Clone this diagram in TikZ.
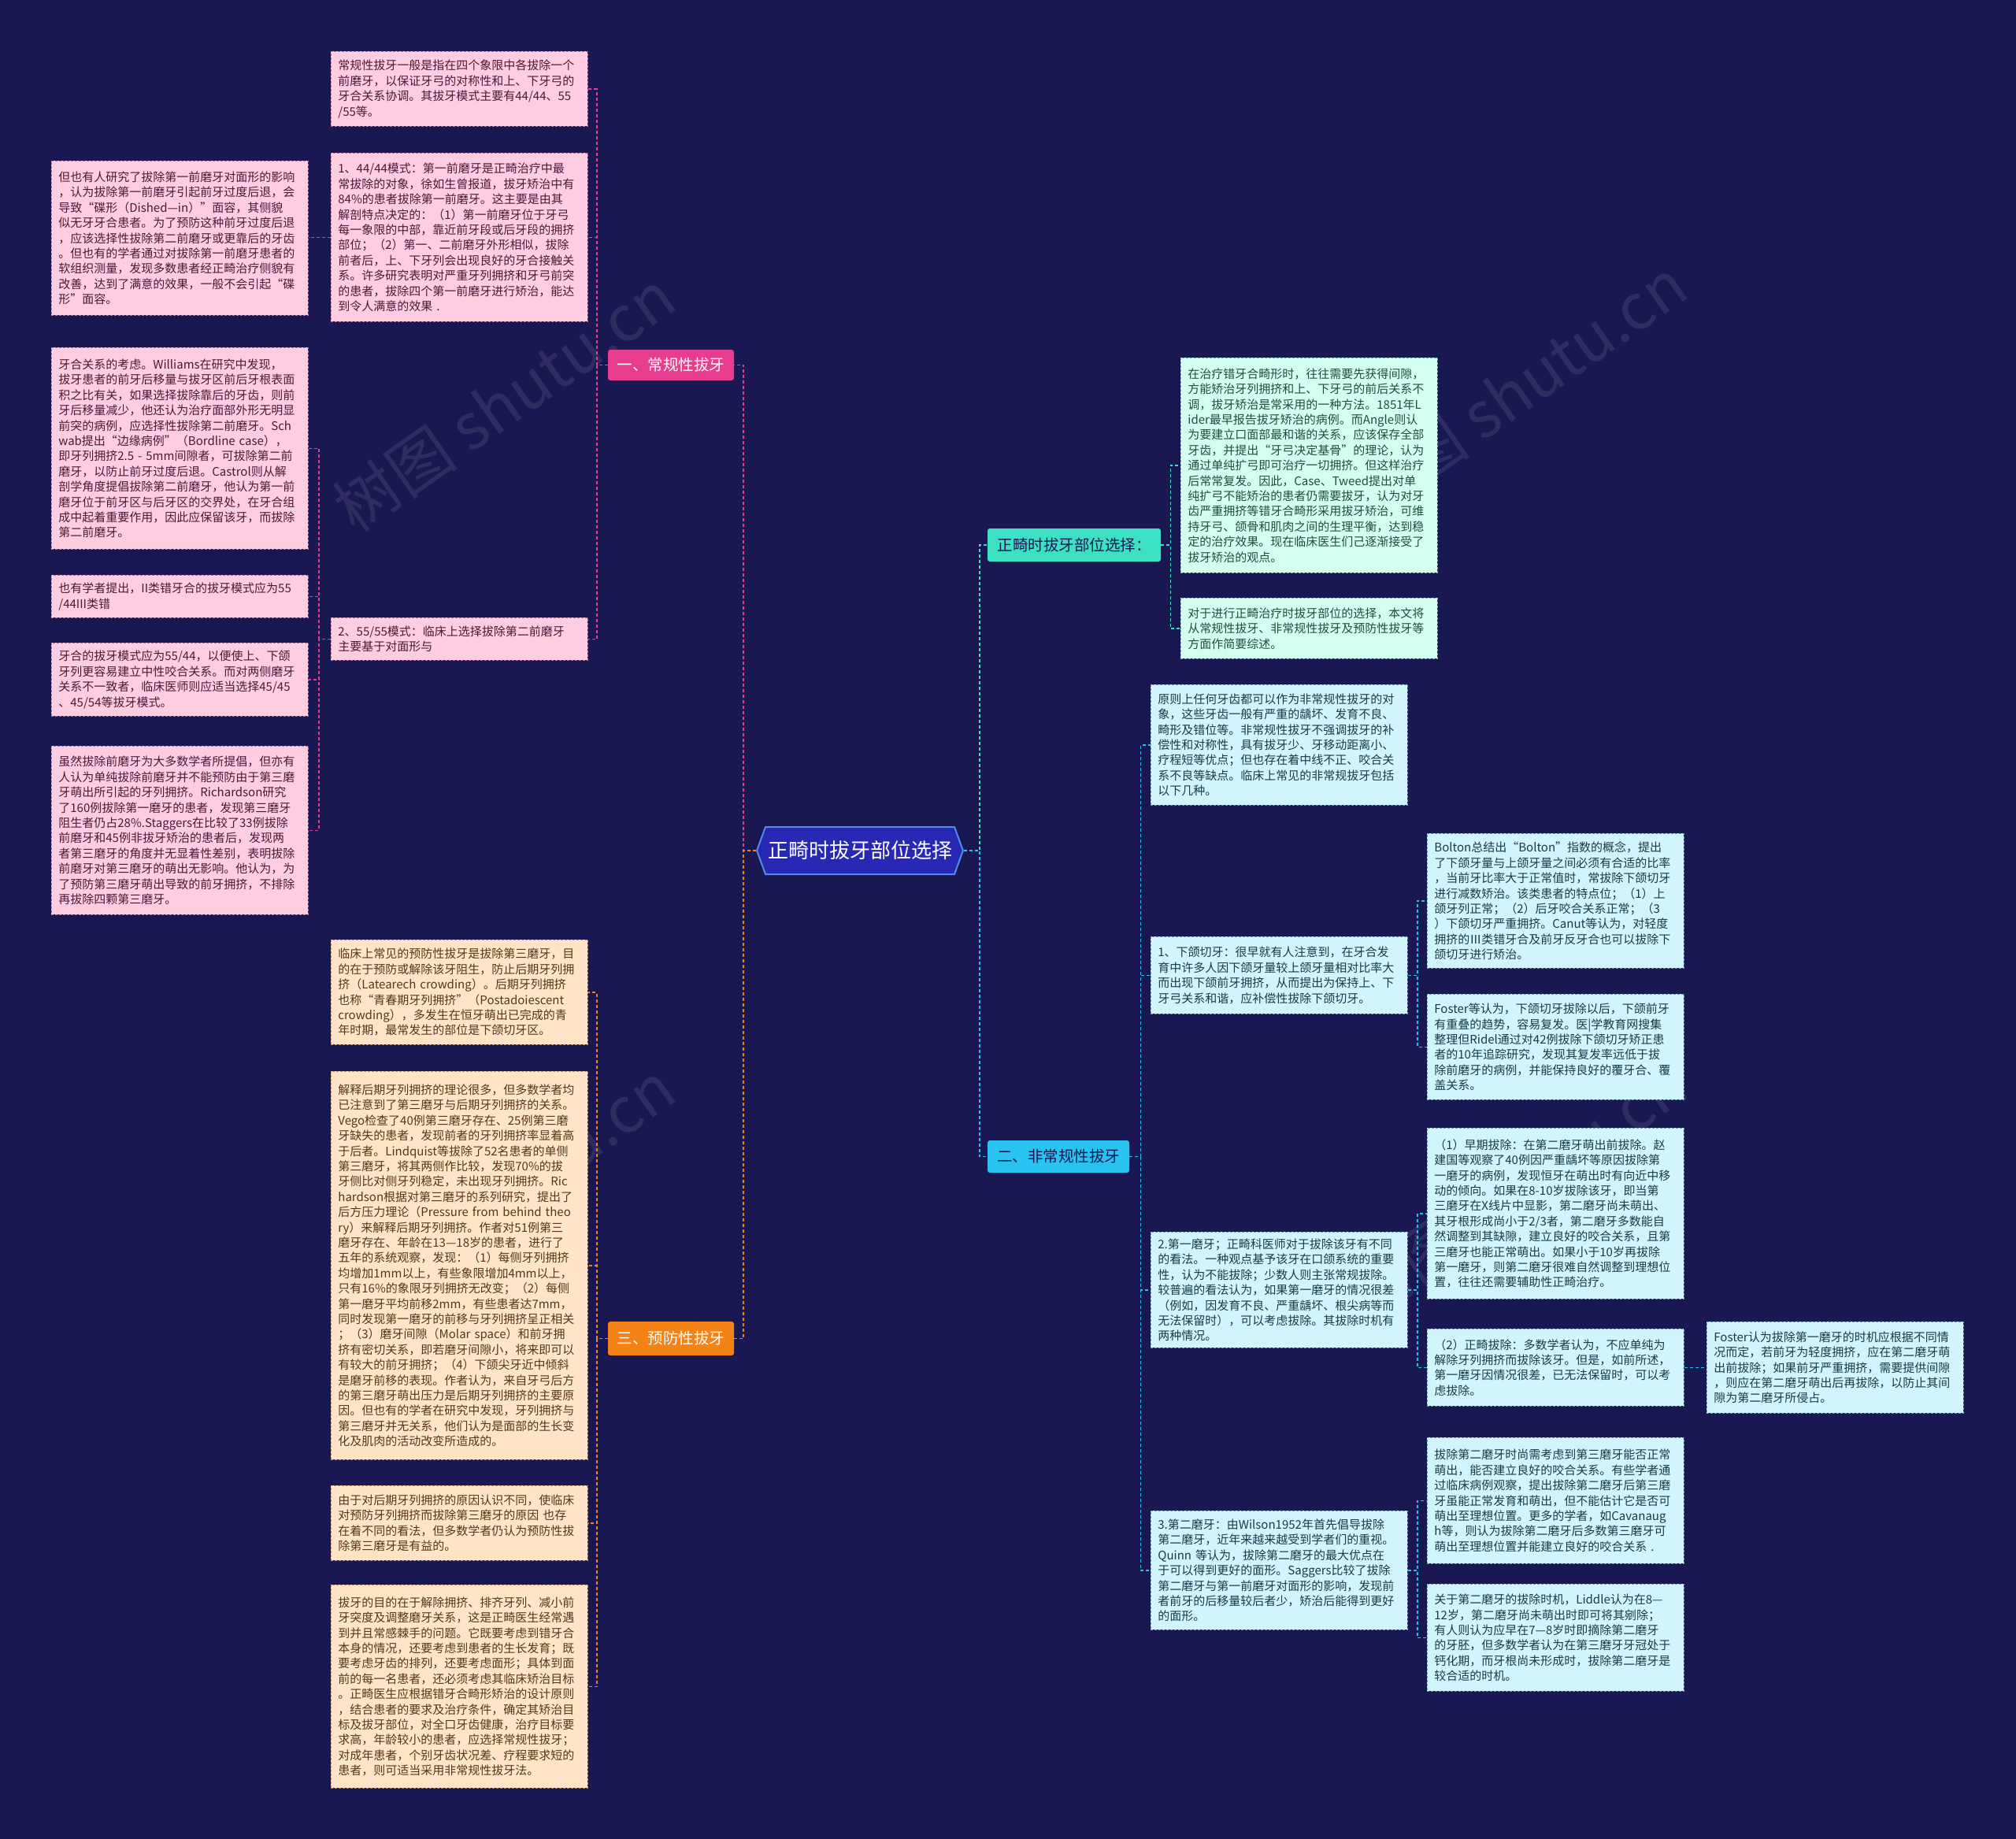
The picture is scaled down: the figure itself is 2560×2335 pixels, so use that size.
\documentclass[tikz,border=0pt]{standalone}
\usepackage{fontspec}
\setmainfont{Noto Sans CJK SC}
\usetikzlibrary{shapes.symbols}
\definecolor{bg}{RGB}{26,24,82}
\definecolor{pinkF}{RGB}{255,205,225}
\definecolor{pinkD}{RGB}{175,115,155}
\definecolor{pinkT}{RGB}{75,25,55}
\definecolor{orangeF}{RGB}{255,228,200}
\definecolor{orangeD}{RGB}{185,145,105}
\definecolor{orangeT}{RGB}{85,55,25}
\definecolor{mintF}{RGB}{212,255,240}
\definecolor{mintD}{RGB}{115,175,160}
\definecolor{mintT}{RGB}{28,78,62}
\definecolor{cyanF}{RGB}{210,244,252}
\definecolor{cyanD}{RGB}{105,155,178}
\definecolor{cyanT}{RGB}{28,56,76}
\definecolor{pinkL}{RGB}{232,60,142}
\definecolor{orangeL}{RGB}{245,130,20}
\definecolor{tealL}{RGB}{60,225,195}
\definecolor{cyanL}{RGB}{40,195,240}
\definecolor{ctrF}{RGB}{40,40,180}
\definecolor{ctrD}{RGB}{80,140,230}
\tikzset{
  box/.style={draw, dash pattern=on 3pt off 2pt, line width=0.8pt, anchor=north west,
    inner xsep=9pt, inner ysep=0pt, text width=308pt, align=left,
    font=\fontsize{15}{19.4}\selectfont},
  pbox/.style={box, fill=pinkF, draw=pinkD, text=pinkT},
  obox/.style={box, fill=orangeF, draw=orangeD, text=orangeT},
  mbox/.style={box, fill=mintF, draw=mintD, text=mintT},
  cbox/.style={box, fill=cyanF, draw=cyanD, text=cyanT},
  branch/.style={rounded corners=3pt, inner sep=0pt, font=\fontsize{19.5}{22}\selectfont},
  conn/.style={line width=1.4pt, dash pattern=on 4pt off 3pt},
  cpink/.style={conn, draw=pinkL},
  corange/.style={conn, draw=orangeL},
  cteal/.style={conn, draw=tealL},
  ccyan/.style={conn, draw=cyanL},
  wm/.style={text=white, opacity=0.09, font=\fontsize{80}{90}\selectfont, rotate=35}
}
\begin{document}
\begin{tikzpicture}[x=1pt,y=-1pt]
\fill[bg] (0,0) rectangle (2560,2335);
\useasboundingbox (0,0) rectangle (2560,2335);

% watermarks
\node[wm] (w1) at (640,510) {树图 shutu.cn};
\node[wm] (w2) at (1925,495) {树图 shutu.cn};
\node[wm] (w3) at (640,1515) {树图 shutu.cn};
\node[wm] (w4) at (1925,1510) {树图 shutu.cn};

% center
\node[signal, signal to=east and west, signal pointer angle=140, fill=ctrF, draw=ctrD,
  line width=2pt, text=white, inner xsep=3pt, minimum height=60pt,
  font=\fontsize{26}{30}\selectfont] (ctr) at (1092,1080) {正畸时拔牙部位选择};

% branches
\node[branch, fill=pinkL, text=white, minimum width=160pt, minimum height=39pt] (b1) at (852,463.5) {一、常规性拔牙};
\node[branch, fill=orangeL, text=white, minimum width=160pt, minimum height=43pt] (b3) at (852,1699.5) {三、预防性拔牙};
\node[branch, fill=tealL, text=bg, minimum width=220pt, minimum height=42pt] (bA) at (1364,692) {正畸时拔牙部位选择：};
\node[branch, fill=cyanL, text=bg, minimum width=180pt, minimum height=41pt] (bB) at (1344,1468.5) {二、非常规性拔牙};

% ---------- left pink ----------
\node[pbox, minimum height=95pt] (A) at (420,65) {常规性拔牙一般是指在四个象限中各拔除一个\\前磨牙，以保证牙弓的对称性和上、下牙弓的\\牙合关系协调。其拔牙模式主要有44/44、55\\/55等。};
\node[pbox, minimum height=214pt] (B) at (420,194) {1、44/44模式：第一前磨牙是正畸治疗中最\\常拔除的对象，徐如生曾报道，拔牙矫治中有\\84\%的患者拔除第一前磨牙。这主要是由其\\解剖特点决定的：（1）第一前磨牙位于牙弓\\每一象限的中部，靠近前牙段或后牙段的拥挤\\部位；（2）第一、二前磨牙外形相似，拔除\\前者后，上、下牙列会出现良好的牙合接触关\\系。许多研究表明对严重牙列拥挤和牙弓前突\\的患者，拔除四个第一前磨牙进行矫治，能达\\到令人满意的效果~.};
\node[pbox, minimum height=54pt] (H) at (420,784) {2、55/55模式：临床上选择拔除第二前磨牙\\主要基于对面形与};
\node[pbox, minimum height=196pt] (C) at (65,204) {但也有人研究了拔除第一前磨牙对面形的影响\\，认为拔除第一前磨牙引起前牙过度后退，会\\导致“碟形（Dished—in）”面容，其侧貌\\似无牙牙合患者。为了预防这种前牙过度后退\\，应该选择性拔除第二前磨牙或更靠后的牙齿\\。但也有的学者通过对拔除第一前磨牙患者的\\软组织测量，发现多数患者经正畸治疗侧貌有\\改善，达到了满意的效果，一般不会引起“碟\\形”面容。};
\node[pbox, minimum height=256pt] (D) at (65,441) {牙合关系的考虑。Williams在研究中发现，\\拔牙患者的前牙后移量与拔牙区前后牙根表面\\积之比有关，如果选择拔除靠后的牙齿，则前\\牙后移量减少，他还认为治疗面部外形无明显\\前突的病例，应选择性拔除第二前磨牙。Sch\\wab提出“边缘病例”（Bordline~case），\\即牙列拥挤2.5~-~5mm间隙者，可拔除第二前\\磨牙，以防止前牙过度后退。Castrol则从解\\剖学角度提倡拔除第二前磨牙，他认为第一前\\磨牙位于前牙区与后牙区的交界处，在牙合组\\成中起着重要作用，因此应保留该牙，而拔除\\第二前磨牙。};
\node[pbox, minimum height=54pt] (E) at (65,730) {也有学者提出，II类错牙合的拔牙模式应为55\\/44III类错};
\node[pbox, minimum height=93pt] (F) at (65,816) {牙合的拔牙模式应为55/44，以便使上、下颌\\牙列更容易建立中性咬合关系。而对两侧磨牙\\关系不一致者，临床医师则应适当选择45/45\\、45/54等拔牙模式。};
\node[pbox, minimum height=214pt] (G) at (65,947) {虽然拔除前磨牙为大多数学者所提倡，但亦有\\人认为单纯拔除前磨牙并不能预防由于第三磨\\牙萌出所引起的牙列拥挤。Richardson研究\\了160例拔除第一磨牙的患者，发现第三磨牙\\阻生者仍占28\%.Staggers在比较了33例拔除\\前磨牙和45例非拔牙矫治的患者后，发现两\\者第三磨牙的角度并无显着性差别，表明拔除\\前磨牙对第三磨牙的萌出无影响。他认为，为\\了预防第三磨牙萌出导致的前牙拥挤，不排除\\再拔除四颗第三磨牙。};

% ---------- left orange ----------
\node[obox, minimum height=133pt] (I) at (420,1193) {临床上常见的预防性拔牙是拔除第三磨牙，目\\的在于预防或解除该牙阻生，防止后期牙列拥\\挤（Latearech~crowding）。后期牙列拥挤\\也称“青春期牙列拥挤”（Postadoiescent\\crowding），多发生在恒牙萌出已完成的青\\年时期，最常发生的部位是下颌切牙区。};
\node[obox, minimum height=493pt] (J) at (420,1360) {解释后期牙列拥挤的理论很多，但多数学者均\\已注意到了第三磨牙与后期牙列拥挤的关系。\\Vego检查了40例第三磨牙存在、25例第三磨\\牙缺失的患者，发现前者的牙列拥挤率显着高\\于后者。Lindquist等拔除了52名患者的单侧\\第三磨牙，将其两侧作比较，发现70\%的拔\\牙侧比对侧牙列稳定，未出现牙列拥挤。Ric\\hardson根据对第三磨牙的系列研究，提出了\\后方压力理论（Pressure~from~behind~theo\\ry）来解释后期牙列拥挤。作者对51例第三\\磨牙存在、年龄在13—18岁的患者，进行了\\五年的系统观察，发现：（1）每侧牙列拥挤\\均增加1mm以上，有些象限增加4mm以上，\\只有16\%的象限牙列拥挤无改变；（2）每侧\\第一磨牙平均前移2mm，有些患者达7mm，\\同时发现第一磨牙的前移与牙列拥挤呈正相关\\；（3）磨牙间隙（Molar~space）和前牙拥\\挤有密切关系，即若磨牙间隙小，将来即可以\\有较大的前牙拥挤；（4）下颌尖牙近中倾斜\\是磨牙前移的表现。作者认为，来自牙弓后方\\的第三磨牙萌出压力是后期牙列拥挤的主要原\\因。但也有的学者在研究中发现，牙列拥挤与\\第三磨牙并无关系，他们认为是面部的生长变\\化及肌肉的活动改变所造成的。};
\node[obox, minimum height=95pt] (K) at (420,1886) {由于对后期牙列拥挤的原因认识不同，使临床\\对预防牙列拥挤而拔除第三磨牙的原因~也存\\在着不同的看法，但多数学者仍认为预防性拔\\除第三磨牙是有益的。};
\node[obox, minimum height=258pt] (L) at (420,2012) {拔牙的目的在于解除拥挤、排齐牙列、减小前\\牙突度及调整磨牙关系，这是正畸医生经常遇\\到并且常感棘手的问题。它既要考虑到错牙合\\本身的情况，还要考虑到患者的生长发育；既\\要考虑牙齿的排列，还要考虑面形；具体到面\\前的每一名患者，还必须考虑其临床矫治目标\\。正畸医生应根据错牙合畸形矫治的设计原则\\，结合患者的要求及治疗条件，确定其矫治目\\标及拔牙部位，对全口牙齿健康，治疗目标要\\求高，年龄较小的患者，应选择常规性拔牙；\\对成年患者，个别牙齿状况差、疗程要求短的\\患者，则可适当采用非常规性拔牙法。};

% ---------- right mint ----------
\node[mbox, minimum height=273pt] (M) at (1499,454) {在治疗错牙合畸形时，往往需要先获得间隙，\\方能矫治牙列拥挤和上、下牙弓的前后关系不\\调，拔牙矫治是常采用的一种方法。1851年L\\ider最早报告拔牙矫治的病例。而Angle则认\\为要建立口面部最和谐的关系，应该保存全部\\牙齿，并提出“牙弓决定基骨”的理论，认为\\通过单纯扩弓即可治疗一切拥挤。但这样治疗\\后常常复发。因此，Case、Tweed提出对单\\纯扩弓不能矫治的患者仍需要拔牙，认为对牙\\齿严重拥挤等错牙合畸形采用拔牙矫治，可维\\持牙弓、颌骨和肌肉之间的生理平衡，达到稳\\定的治疗效果。现在临床医生们己逐渐接受了\\拔牙矫治的观点。};
\node[mbox, minimum height=77pt] (N) at (1499,759) {对于进行正畸治疗时拔牙部位的选择，本文将\\从常规性拔牙、非常规性拔牙及预防性拔牙等\\方面作简要综述。};

% ---------- right cyan ----------
\node[cbox, minimum height=153pt] (O) at (1461,869) {原则上任何牙齿都可以作为非常规性拔牙的对\\象，这些牙齿一般有严重的龋坏、发育不良、\\畸形及错位等。非常规性拔牙不强调拔牙的补\\偿性和对称性，具有拔牙少、牙移动距离小、\\疗程短等优点；但也存在着中线不正、咬合关\\系不良等缺点。临床上常见的非常规拔牙包括\\以下几种。};
\node[cbox, minimum height=98pt] (Q) at (1461,1189) {1、下颌切牙：很早就有人注意到，在牙合发\\育中许多人因下颌牙量较上颌牙量相对比率大\\而出现下颌前牙拥挤，从而提出为保持上、下\\牙弓关系和谐，应补偿性拔除下颌切牙。};
\node[cbox, minimum height=147pt] (T) at (1461,1564) {2.第一磨牙；正畸科医师对于拔除该牙有不同\\的看法。一种观点基予该牙在口颌系统的重要\\性，认为不能拔除；少数人则主张常规拔除。\\较普遍的看法认为，如果第一磨牙的情况很差\\（例如，因发育不良、严重龋坏、根尖病等而\\无法保留时），可以考虑拔除。其拔除时机有\\两种情况。};
\node[cbox, minimum height=151pt] (X) at (1461,1918) {3.第二磨牙：由Wilson1952年首先倡导拔除\\第二磨牙，近年来越来越受到学者们的重视。\\Quinn~等认为，拔除第二磨牙的最大优点在\\于可以得到更好的面形。Saggers比较了拔除\\第二磨牙与第一前磨牙对面形的影响，发现前\\者前牙的后移量较后者少，矫治后能得到更好\\的面形。};
\node[cbox, minimum height=171pt] (P) at (1812,1058) {Bolton总结出“Bolton”指数的概念，提出\\了下颌牙量与上颌牙量之间必须有合适的比率\\，当前牙比率大于正常值时，常拔除下颌切牙\\进行减数矫治。该类患者的特点位；（1）上\\颌牙列正常；（2）后牙咬合关系正常；（3\\）下颌切牙严重拥挤。Canut等认为，对轻度\\拥挤的Ⅲ类错牙合及前牙反牙合也可以拔除下\\颌切牙进行矫治。};
\node[cbox, minimum height=134pt] (R) at (1812,1262) {Foster等认为，下颌切牙拔除以后，下颌前牙\\有重叠的趋势，容易复发。医|学教育网搜集\\整理但Ridel通过对42例拔除下颌切牙矫正患\\者的10年追踪研究，发现其复发率远低于拔\\除前磨牙的病例，并能保持良好的覆牙合、覆\\盖关系。};
\node[cbox, minimum height=217pt] (S) at (1812,1432) {（1）早期拔除：在第二磨牙萌出前拔除。赵\\建国等观察了40例因严重龋坏等原因拔除第\\一磨牙的病例，发现恒牙在萌出时有向近中移\\动的倾向。如果在8-10岁拔除该牙，即当第\\三磨牙在X线片中显影，第二磨牙尚未萌出、\\其牙根形成尚小于2/3者，第二磨牙多数能自\\然调整到其缺隙，建立良好的咬合关系，且第\\三磨牙也能正常萌出。如果小于10岁再拔除\\第一磨牙，则第二磨牙很难自然调整到理想位\\置，往往还需要辅助性正畸治疗。};
\node[cbox, minimum height=98pt] (U) at (1812,1687) {（2）正畸拔除：多数学者认为，不应单纯为\\解除牙列拥挤而拔除该牙。但是，如前所述，\\第一磨牙因情况很差，已无法保留时，可以考\\虑拔除。};
\node[cbox, minimum height=116pt] (V) at (2167,1678) {Foster认为拔除第一磨牙的时机应根据不同情\\况而定，若前牙为轻度拥挤，应在第二磨牙萌\\出前拔除；如果前牙严重拥挤，需要提供间隙\\，则应在第二磨牙萌出后再拔除，以防止其间\\隙为第二磨牙所侵占。};
\node[cbox, minimum height=160pt] (W) at (1812,1825) {拔除第二磨牙时尚需考虑到第三磨牙能否正常\\萌出，能否建立良好的咬合关系。有些学者通\\过临床病例观察，提出拔除第二磨牙后第三磨\\牙虽能正常发育和萌出，但不能估计它是否可\\萌出至理想位置。更多的学者，如Cavanaug\\h等，则认为拔除第二磨牙后多数第三磨牙可\\萌出至理想位置并能建立良好的咬合关系~.};
\node[cbox, minimum height=136pt] (Y) at (1812,2011) {关于第二磨牙的拔除时机，Liddle认为在8—\\12岁，第二磨牙尚未萌出时即可将其剜除；\\有人则认为应早在7—8岁时即摘除第二磨牙\\的牙胚，但多数学者认为在第三磨牙牙冠处于\\钙化期，而牙根尚未形成时，拔除第二磨牙是\\较合适的时机。};

% ---------- connectors ----------
\draw[cpink] (ctr.west) -- ++(-16,0) |- (b1.east);
\draw[corange] (ctr.west) -- ++(-16,0) |- (b3.east);
\draw[cteal] (ctr.east) -- ++(20,0) |- (bA.west);
\draw[ccyan] (ctr.east) -- ++(20,0) |- (bB.west);

\draw[cpink] (b1.west) -- ++(-14,0) |- (A.east);
\draw[cpink] (b1.west) -- ++(-14,0) |- (B.east);
\draw[cpink] (b1.west) -- ++(-14,0) |- (H.east);
\draw[cpink] (B.west) -- (B.west -| C.east);
\draw[cpink] (H.west) -- ++(-15,0) |- (D.east);
\draw[cpink] (H.west) -- ++(-15,0) |- (E.east);
\draw[cpink] (H.west) -- ++(-15,0) |- (F.east);
\draw[cpink] (H.west) -- ++(-15,0) |- (G.east);

\draw[corange] (b3.west) -- ++(-14,0) |- (I.east);
\draw[corange] (b3.west) -- ++(-14,0) |- (J.east);
\draw[corange] (b3.west) -- ++(-14,0) |- (K.east);
\draw[corange] (b3.west) -- ++(-14,0) |- (L.east);

\draw[cteal] (bA.east) -- ++(12,0) |- (M.west);
\draw[cteal] (bA.east) -- ++(12,0) |- (N.west);

\draw[ccyan] (bB.east) -- ++(14,0) |- (O.west);
\draw[ccyan] (bB.east) -- ++(14,0) |- (Q.west);
\draw[ccyan] (bB.east) -- ++(14,0) |- (T.west);
\draw[ccyan] (bB.east) -- ++(14,0) |- (X.west);
\draw[ccyan] (Q.east) -- ++(12,0) |- (P.west);
\draw[ccyan] (Q.east) -- ++(12,0) |- (R.west);
\draw[ccyan] (T.east) -- ++(12,0) |- (S.west);
\draw[ccyan] (T.east) -- ++(12,0) |- (U.west);
\draw[ccyan] (U.east) -- (V.west);
\draw[ccyan] (X.east) -- ++(12,0) |- (W.west);
\draw[ccyan] (X.east) -- ++(12,0) |- (Y.west);
\end{tikzpicture}
\end{document}
